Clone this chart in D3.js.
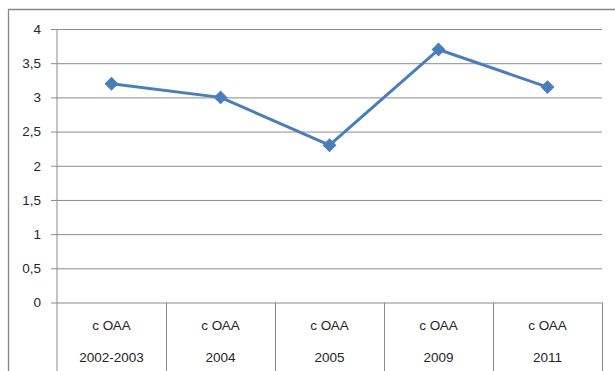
<!DOCTYPE html>
<html>
<head>
<meta charset="utf-8">
<script src="https://cdn.jsdelivr.net/npm/d3@7"></script>
<style>
  html, body { margin: 0; padding: 0; background: #fff; }
  svg { display: block; }
  text { font-family: "Liberation Sans", Arial, sans-serif; fill: #262626; }
</style>
</head>
<body>
<svg id="chart" width="615" height="371"></svg>
<script>
// Survey rounds and their values
const groups = ["с ОАА", "с ОАА", "с ОАА", "с ОАА", "с ОАА"];
const years = ["2002-2003", "2004", "2005", "2009", "2011"];
const values = [3.2, 3.0, 2.3, 3.7, 3.15];
const yTicks = [0, 0.5, 1, 1.5, 2, 2.5, 3, 3.5, 4];

const svg = d3.select("#chart");
const W = 615, H = 371;
const plot = { left: 57, right: 602, top: 29, bottom: 302.5 };

// Chart frame
svg.append("line").attr("x1", 8.5).attr("x2", 8.5).attr("y1", 9.5).attr("y2", H)
  .attr("stroke", "#868686").attr("stroke-width", 1.3);
svg.append("line").attr("x1", 8).attr("x2", W).attr("y1", 9.5).attr("y2", 9.5)
  .attr("stroke", "#868686").attr("stroke-width", 1.3);

const x = d3.scaleBand().domain(d3.range(years.length))
  .range([plot.left, plot.right]).padding(0);
const y = d3.scaleLinear().domain([0, 4]).range([plot.bottom, plot.top]);

const fmt = v => d3.format("")(v).replace(".", ",");

// Horizontal gridlines with tick stubs
const yAxis = d3.axisLeft(y).tickValues(yTicks).tickFormat(fmt)
  .tickSize(-(plot.right - plot.left)).tickPadding(16);
const gy = svg.append("g").attr("transform", `translate(${plot.left},0)`).call(yAxis);
gy.attr("font-size", null).attr("font-family", null);
gy.select(".domain").remove();
gy.selectAll(".tick line").attr("x1", -6).attr("stroke", "#8c8c8c").attr("stroke-width", 1);
gy.selectAll(".tick text").style("font-size", "13.5px")
  .attr("fill", "#262626");

// Vertical value axis line
svg.append("line").attr("x1", plot.left).attr("x2", plot.left)
  .attr("y1", plot.top).attr("y2", H)
  .attr("stroke", "#8c8c8c");

// Category separators below the plot
const bounds = d3.range(years.length + 1).map(i => i < years.length ? x(i) : x(years.length - 1) + x.bandwidth());
svg.append("g").selectAll("line").data(bounds.slice(1)).join("line")
  .attr("x1", d => Math.round(d) + 0.5).attr("x2", d => Math.round(d) + 0.5)
  .attr("y1", plot.bottom).attr("y2", H)
  .attr("stroke", "#8c8c8c");

// Two-level category labels
const lab = svg.append("g");
lab.selectAll("text.g").data(groups).join("text").attr("class", "g")
  .attr("x", (d, i) => x(i) + x.bandwidth() / 2).attr("y", 330)
  .attr("text-anchor", "middle").style("font-size", "13.5px").text(d => d);
lab.selectAll("text.yr").data(years).join("text").attr("class", "yr")
  .attr("x", (d, i) => x(i) + x.bandwidth() / 2).attr("y", 362)
  .attr("text-anchor", "middle").style("font-size", "13.5px").text(d => d);

// Series line and diamond markers
const cx = i => x(i) + x.bandwidth() / 2;
svg.append("path").datum(values)
  .attr("d", d3.line().x((d, i) => cx(i)).y(d => y(d)))
  .attr("fill", "none").attr("stroke", "#4a7ebb").attr("stroke-width", 3)
  .attr("stroke-linejoin", "round");
svg.append("g").selectAll("path").data(values).join("path")
  .attr("transform", (d, i) => `translate(${cx(i)},${y(d)}) rotate(45)`)
  .attr("d", "M-4.4,-4.4H4.4V4.4H-4.4Z")
  .attr("fill", "#4a7ebb").attr("stroke", "#4a7ebb").attr("stroke-width", 1);
</script>
</body>
</html>
